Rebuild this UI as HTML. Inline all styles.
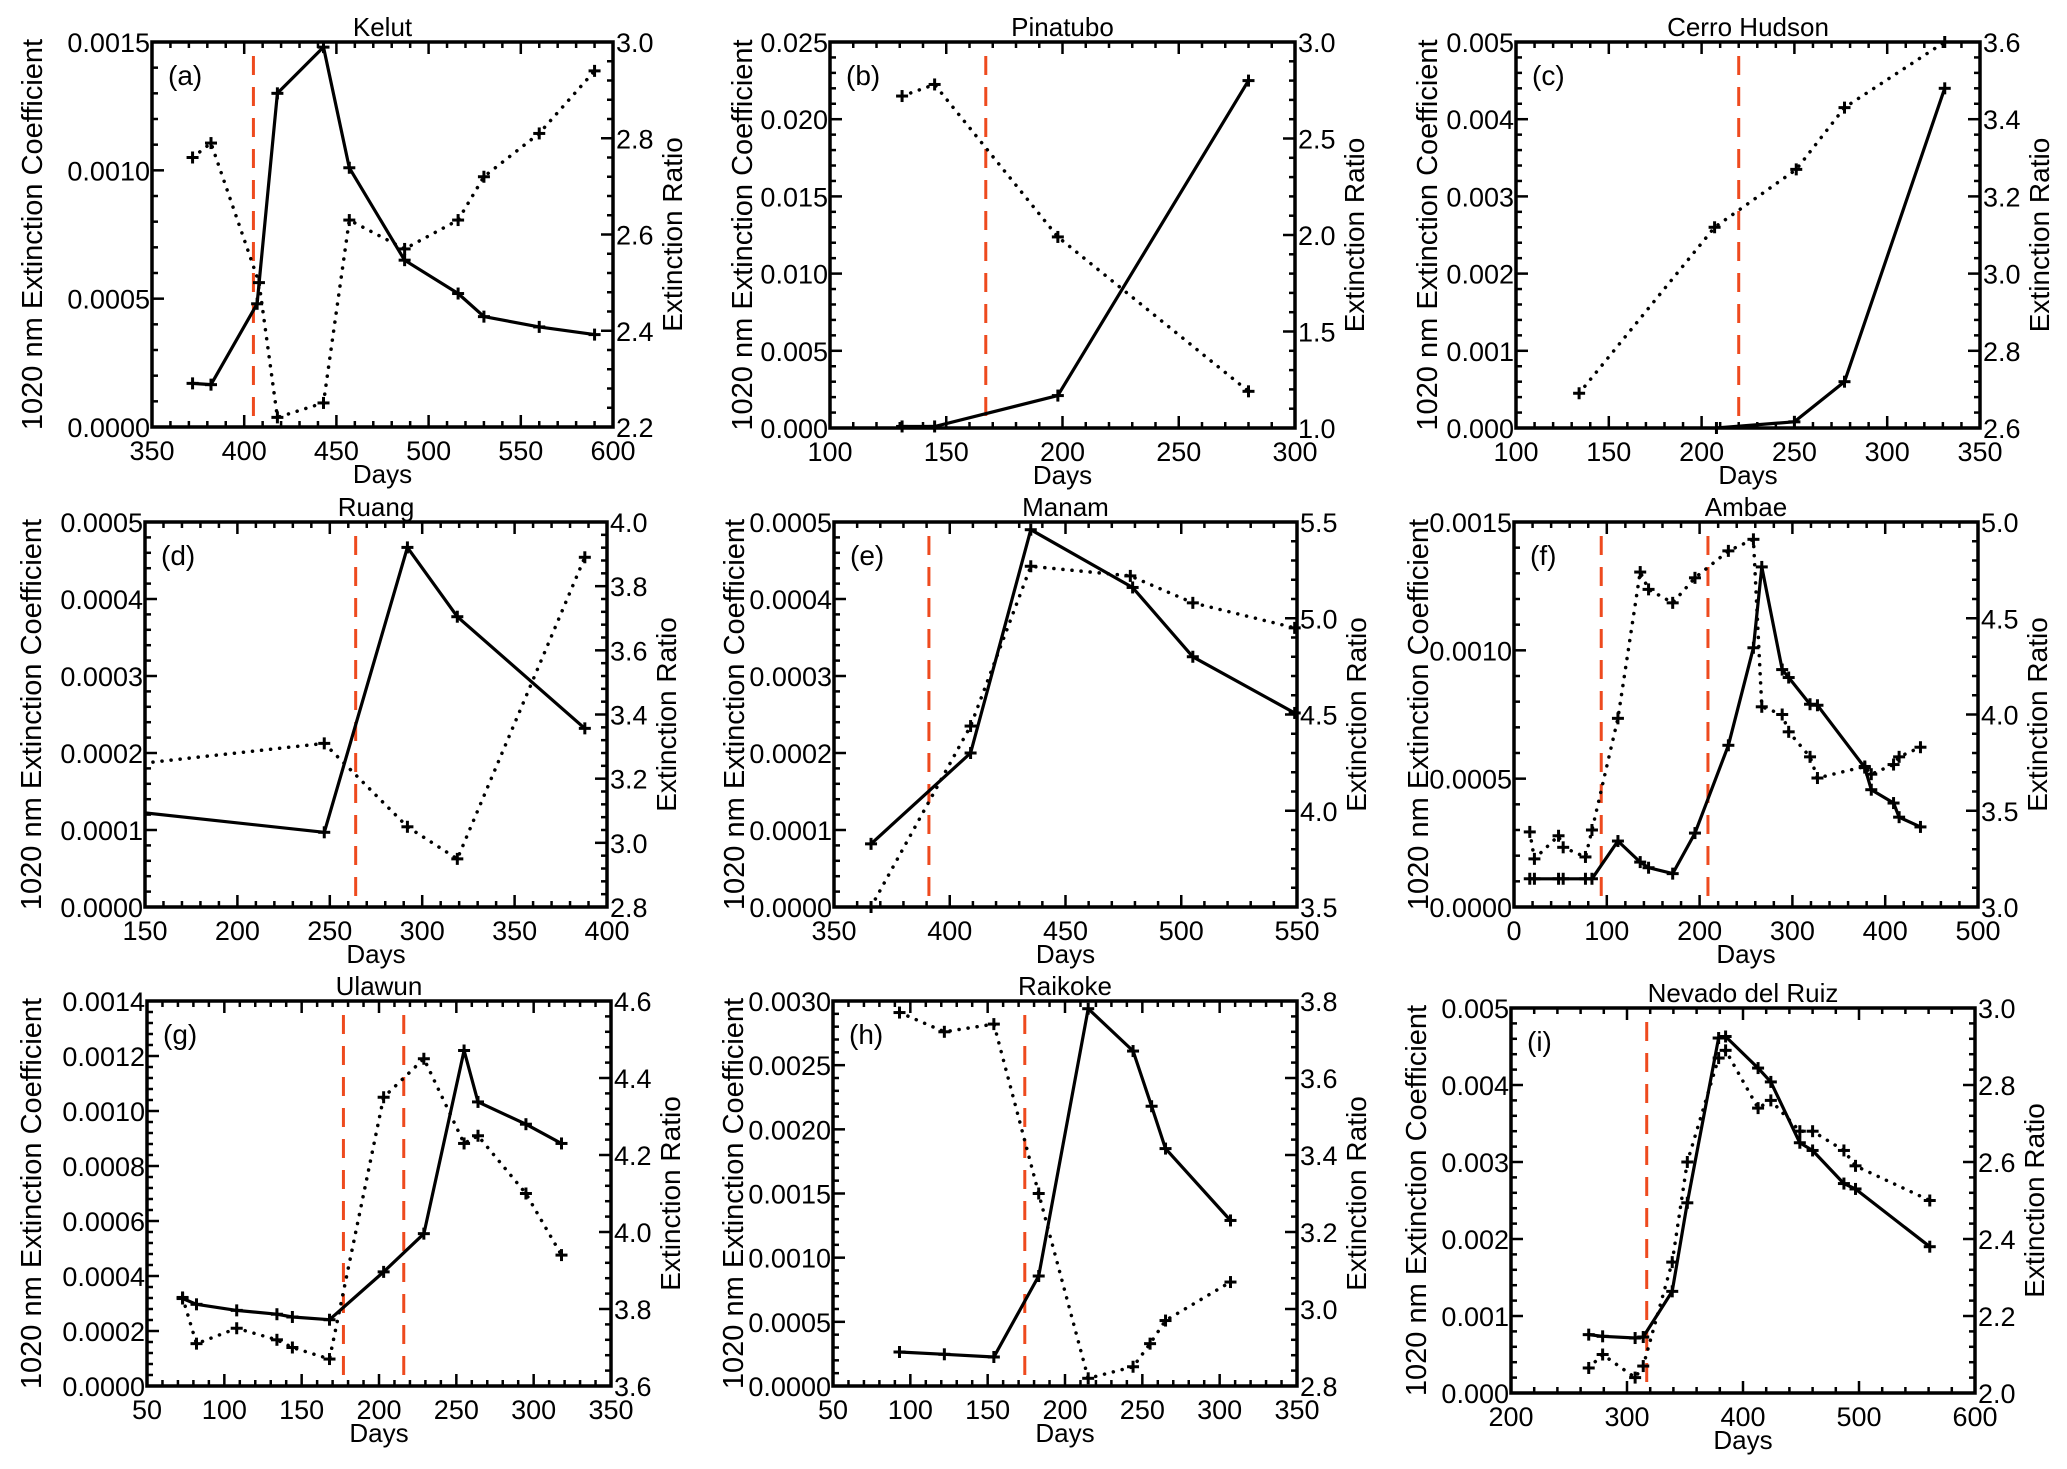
<!DOCTYPE html>
<html>
<head>
<meta charset="utf-8">
<style>
  html,body{margin:0;padding:0;background:#fff;}
  svg{display:block;font-family:"Liberation Sans",Arial,sans-serif;}
</style>
</head>
<body>
<svg id="fig" width="2067" height="1469" viewBox="0 0 2067 1469" xmlns="http://www.w3.org/2000/svg"></svg>
<script>
// ---------- DATA ----------
const titles = ["Kelut","Pinatubo","Cerro Hudson","Ruang","Manam","Ambae","Ulawun","Raikoke","Nevado del Ruiz"];
const letters = ["(a)","(b)","(c)","(d)","(e)","(f)","(g)","(h)","(i)"];

const aDays = [372,382,407,418,443,457,487,516,530,560,590];
const aExt = [0.00017,0.000165,0.00048,0.0013,0.00148,0.00101,0.00065,0.00052,0.00043,0.00039,0.00036];
const aRDays = [372,382,408,418,443,457,487,516,530,560,590];
const aRatio = [2.76,2.79,2.5,2.22,2.25,2.63,2.57,2.63,2.72,2.81,2.94];
const aErupt = [405];

const bDays = [131,145,198,280];
const bExt = [0.0001,0.0001,0.0021,0.0225];
const bRDays = [131,145,198,280];
const bRatio = [2.72,2.78,1.99,1.19];
const bErupt = [167];

const cDays = [208,250,277,331];
const cExt = [0.0,0.00008,0.0006,0.0044];
const cRDays = [134,207,251,277,331];
const cRatio = [2.69,3.12,3.27,3.43,3.6];
const cErupt = [220];

const dDays = [120,247,292,319,388];
const dExt = [0.00013,0.000097,0.000467,0.000377,0.000232];
const dRDays = [120,247,292,319,388];
const dRatio = [3.23,3.31,3.05,2.95,3.89];
const dErupt = [264];

const eDays = [366,409,435,479,505,549];
const eExt = [0.000082,0.0002,0.00049,0.000415,0.000325,0.000252];
const eRDays = [366,409,435,478,505,549];
const eRatio = [3.5,4.44,5.27,5.22,5.08,4.95];
const eErupt = [391];

const fDays = [17,22,48,53,77,84,112,136,145,171,195,231,258,267,289,296,319,327,378,385,409,415,438];
const fExt = [0.00011,0.00011,0.00011,0.00011,0.00011,0.00011,0.000257,0.000175,0.000153,0.00013,0.000288,0.00063,0.00101,0.001325,0.000925,0.000894,0.00079,0.000786,0.000543,0.000457,0.000405,0.00035,0.000312];
const fRDays = [17,22,48,53,77,84,112,136,145,171,195,231,258,267,289,296,319,327,378,385,409,415,438];
const fRatio = [3.39,3.25,3.37,3.31,3.26,3.40,3.98,4.74,4.65,4.58,4.71,4.85,4.91,4.04,4.0,3.91,3.78,3.67,3.73,3.69,3.74,3.78,3.83];
const fErupt = [94,209];

const gDays = [73,82,108,134,144,168,203,229,255,264,295,318];
const gExt = [0.000318,0.000297,0.000275,0.000261,0.000251,0.000241,0.000415,0.000554,0.00122,0.001033,0.000952,0.000882];
const gRDays = [73,82,108,134,144,168,203,229,255,264,295,318];
const gRatio = [3.83,3.71,3.75,3.72,3.70,3.67,4.35,4.45,4.23,4.25,4.10,3.94];
const gErupt = [177,216];

const hDays = [93,122,154,183,215,244,256,265,307];
const hExt = [0.000265,0.000247,0.000226,0.000857,0.00294,0.00261,0.00218,0.00185,0.00129];
const hRDays = [93,122,154,183,215,244,255,265,307];
const hRatio = [3.77,3.72,3.74,3.30,2.82,2.85,2.91,2.97,3.07];
const hErupt = [174];

const iDays = [267,279,307,314,339,352,379,385,413,424,449,460,487,497,561];
const iExt = [0.000758,0.000736,0.000714,0.000727,0.00132,0.00247,0.00461,0.00463,0.00422,0.00404,0.00325,0.00315,0.00272,0.00265,0.0019];
const iRDays = [267,279,307,314,339,352,379,385,413,424,449,460,487,497,561];
const iRatio = [2.065,2.10,2.04,2.07,2.34,2.60,2.87,2.89,2.74,2.76,2.68,2.68,2.63,2.59,2.50];
const iErupt = [317];

const xTicks = [[350,400,450,500,550,600],[100,150,200,250,300],[100,150,200,250,300,350],[150,200,250,300,350,400],[350,400,450,500,550],[0,100,200,300,400,500],[50,100,150,200,250,300,350],[50,100,150,200,250,300,350],[200,300,400,500,600]];
const yTicks = [[0,0.0005,0.0010,0.0015],[0,0.005,0.010,0.015,0.020,0.025],[0,0.001,0.002,0.003,0.004,0.005],[0,0.0001,0.0002,0.0003,0.0004,0.0005],[0,0.0001,0.0002,0.0003,0.0004,0.0005],[0,0.0005,0.0010,0.0015],[0,0.0002,0.0004,0.0006,0.0008,0.0010,0.0012,0.0014],[0,0.0005,0.0010,0.0015,0.0020,0.0025,0.0030],[0,0.001,0.002,0.003,0.004,0.005]];
const yDecimals = [4,3,3,4,4,4,4,4,3];
const rTicks = [[2.2,2.4,2.6,2.8,3.0],[1.0,1.5,2.0,2.5,3.0],[2.6,2.8,3.0,3.2,3.4,3.6],[2.8,3.0,3.2,3.4,3.6,3.8,4.0],[3.5,4.0,4.5,5.0,5.5],[3.0,3.5,4.0,4.5,5.0],[3.6,3.8,4.0,4.2,4.4,4.6],[2.8,3.0,3.2,3.4,3.6,3.8],[2.0,2.2,2.4,2.6,2.8,3.0]];

// ---------- LAYOUT (not data) ----------
const boxes = [
  {l:152,r:613,t:42,b:427,yt:120},{l:830,r:1295,t:42,b:428,yt:88},{l:1516,r:1980,t:42,b:428,yt:89},
  {l:145,r:607,t:522,b:907,yt:114},{l:834,r:1297,t:522,b:907,yt:100},{l:1514,r:1978,t:522,b:907,yt:96},
  {l:147,r:611,t:1001,b:1386,yt:116},{l:833,r:1297,t:1001,b:1386,yt:100},{l:1511,r:1975,t:1008,b:1393,yt:95}
];
const series = [
  [aDays,aExt,aRDays,aRatio,aErupt],[bDays,bExt,bRDays,bRatio,bErupt],[cDays,cExt,cRDays,cRatio,cErupt],
  [dDays,dExt,dRDays,dRatio,dErupt],[eDays,eExt,eRDays,eRatio,eErupt],[fDays,fExt,fRDays,fRatio,fErupt],
  [gDays,gExt,gRDays,gRatio,gErupt],[hDays,hExt,hRDays,hRatio,hErupt],[iDays,iExt,iRDays,iRatio,iErupt]
];

const NS = "http://www.w3.org/2000/svg";
const svg = document.getElementById("fig");
function mk(tag, attrs, parent){
  const e = document.createElementNS(NS, tag);
  for (const k in attrs) e.setAttribute(k, attrs[k]);
  (parent||svg).appendChild(e);
  return e;
}
const defs = mk("defs", {});

for (let p = 0; p < 9; p++) {
  const B = boxes[p];
  const xt = xTicks[p], yt = yTicks[p], rt = rTicks[p];
  const x0 = xt[0], x1 = xt[xt.length-1];
  const y0 = yt[0], y1 = yt[yt.length-1];
  const r0 = rt[0], r1 = rt[rt.length-1];
  const X = v => B.l + (v - x0) / (x1 - x0) * (B.r - B.l);
  const Y = v => B.b - (v - y0) / (y1 - y0) * (B.b - B.t);
  const R = v => B.b - (v - r0) / (r1 - r0) * (B.b - B.t);

  const g = mk("g", {});
  
  

  const cp = mk("clipPath", {id: "clip" + p}, defs);
  mk("rect", {x: B.l, y: B.t, width: B.r - B.l, height: B.b - B.t}, cp);

  const tt = mk("text", {x: (B.l + B.r) / 2, y: B.t - 6, "text-anchor": "middle", "font-size": 26}, g);
  tt.textContent = titles[p];
  
  

  const lt = mk("text", {x: B.l + 16, y: B.t + 43, "font-size": 28}, g);
  lt.textContent = letters[p];
  
  

  const tk = mk("g", {stroke: "#000", "stroke-width": 2.5}, g);
  
  
  for (let i = 0; i < xt.length; i++) {
    const x = X(xt[i]);
    mk("line", {x1: x, x2: x, y1: B.b, y2: B.b - 12}, tk);
    mk("line", {x1: x, x2: x, y1: B.t, y2: B.t + 12}, tk);
    if (i < xt.length - 1) for (let m = 1; m < 5; m++) {
      const xm = X(xt[i] + (xt[i+1] - xt[i]) * m / 5);
      mk("line", {x1: xm, x2: xm, y1: B.b, y2: B.b - 6}, tk);
      mk("line", {x1: xm, x2: xm, y1: B.t, y2: B.t + 6}, tk);
    }
    const lab = mk("text", {x: x, y: B.b + 33, "text-anchor": "middle", "font-size": 27}, g);
    lab.textContent = xt[i];
    
    
  }
  for (let i = 0; i < yt.length; i++) {
    const y = Y(yt[i]);
    mk("line", {x1: B.l, x2: B.l + 12, y1: y, y2: y}, tk);
    if (i < yt.length - 1) for (let m = 1; m < 5; m++) {
      const ym = Y(yt[i] + (yt[i+1] - yt[i]) * m / 5);
      mk("line", {x1: B.l, x2: B.l + 6, y1: ym, y2: ym}, tk);
    }
    const lab = mk("text", {x: B.l - 2, y: y + 10, "text-anchor": "end", "font-size": 27}, g);
    lab.textContent = yt[i].toFixed(yDecimals[p]);
    
    
  }
  for (let i = 0; i < rt.length; i++) {
    const y = R(rt[i]);
    mk("line", {x1: B.r, x2: B.r - 12, y1: y, y2: y}, tk);
    if (i < rt.length - 1) for (let m = 1; m < 5; m++) {
      const ym = R(rt[i] + (rt[i+1] - rt[i]) * m / 5);
      mk("line", {x1: B.r, x2: B.r - 6, y1: ym, y2: ym}, tk);
    }
    const lab = mk("text", {x: B.r + 3, y: y + 10, "text-anchor": "start", "font-size": 27}, g);
    lab.textContent = rt[i].toFixed(1);
    
    
  }

  const xl = mk("text", {x: (B.l + B.r) / 2, y: B.b + 56, "text-anchor": "middle", "font-size": 26}, g);
  xl.textContent = "Days";
  
  
  const cy = (B.t + B.b) / 2;
  const yl = mk("text", {x: 0, y: 0, "text-anchor": "middle", "font-size": 29,
    transform: "translate(" + (B.l - B.yt + 10) + "," + cy + ") rotate(-90)"}, g);
  yl.textContent = "1020 nm Extinction Coefficient";
  
  
  const rl = mk("text", {x: 0, y: 0, "text-anchor": "middle", "font-size": 28,
    transform: "translate(" + (B.r + 69) + "," + cy + ") rotate(-90)"}, g);
  rl.textContent = "Extinction Ratio";
  
  

  const [days, ext, rdays, ratio, erupt] = series[p];
  const clipG = mk("g", {"clip-path": "url(#clip" + p + ")"}, g);

  erupt.forEach(d => {
    const el = mk("line", {x1: X(d), x2: X(d), y1: B.t + 14, y2: B.b, stroke: "#ee4a1e", "stroke-width": 3, "stroke-dasharray": "19 12"}, clipG);
    
    
  });

  const sp = days.map((d, i) => X(d).toFixed(1) + "," + Y(ext[i]).toFixed(1)).join(" ");
  const sl = mk("polyline", {points: sp, fill: "none", stroke: "#000", "stroke-width": 3.2, "stroke-linejoin": "round"}, clipG);
  
  

  const dp = rdays.map((d, i) => X(d).toFixed(1) + "," + R(ratio[i]).toFixed(1)).join(" ");
  const dl = mk("polyline", {points: dp, fill: "none", stroke: "#000", "stroke-width": 3.5, "stroke-dasharray": "0.1 9", "stroke-linecap": "round"}, clipG);
  
  

  const mg = mk("g", {stroke: "#000", "stroke-width": 3}, g);
  
  
  const plus = (x, y) => {
    if (x < B.l - 1 || x > B.r + 1 || y < B.t - 1 || y > B.b + 1) return;
    mk("line", {x1: x - 6, x2: x + 6, y1: y, y2: y}, mg);
    mk("line", {x1: x, x2: x, y1: y - 6, y2: y + 6}, mg);
  };
  days.forEach((d, i) => plus(X(d), Y(ext[i])));
  rdays.forEach((d, i) => plus(X(d), R(ratio[i])));

  const fr = mk("rect", {x: B.l, y: B.t, width: B.r - B.l, height: B.b - B.t, fill: "none", stroke: "#000", "stroke-width": 3.5}, g);
  
  
}
</script>
</body>
</html>
